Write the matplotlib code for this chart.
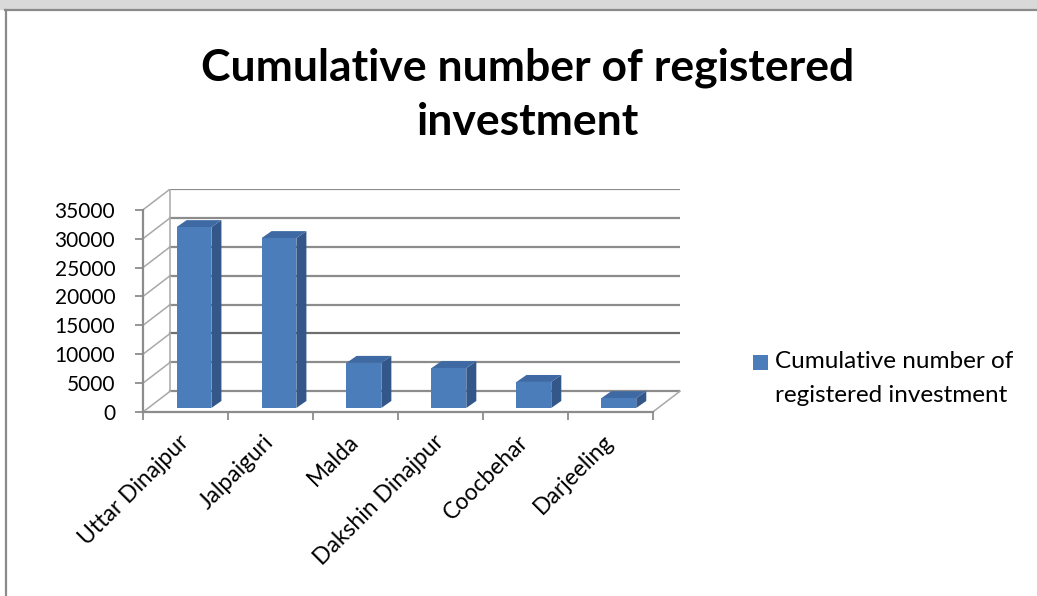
import matplotlib
matplotlib.use("Agg")
import matplotlib.pyplot as plt
from matplotlib.patches import Polygon, Rectangle
from matplotlib.lines import Line2D

plt.rcParams['font.family'] = ['Lato', 'DejaVu Sans']

districts = ['Uttar Dinajpur', 'Jalpaiguri', 'Malda', 'Dakshin Dinajpur',
             'Coocbehar', 'Darjeeling']
investments = [31300, 29400, 7800, 6900, 4500, 1700]
y_ticks = [0, 5000, 10000, 15000, 20000, 25000, 30000, 35000]
title_lines = ['Cumulative number of registered', 'investment']
legend_lines = ['Cumulative number of', 'registered investment']

# fake 3d: oblique offsets of the back wall and the bar depth (data units)
wall_dx, wall_dy = 0.32, 3600
bar_off_x, bar_off_y = 0.10, 700
bar_dx, bar_dy = 0.118, 1210
bar_w = 0.41
front_c, side_c, top_c = '#4a7dba', '#34578a', '#3e69a3'
grid_c = '#8c8c8c'

W, H = 1037, 596
fig = plt.figure(figsize=(W / 100, H / 100), dpi=100)

# page strip and chart frame
fig.patches.append(Rectangle((0, 1 - 10 / H), 1, 10 / H, transform=fig.transFigure,
                             facecolor='#d9d9d9', edgecolor='none'))
fig.lines.append(Line2D([5 / W, 1], [1 - 10 / H, 1 - 10 / H], transform=fig.transFigure,
                        color='#8a8a8a', lw=1.6))
fig.lines.append(Line2D([6 / W, 6 / W], [0, 1 - 10 / H], transform=fig.transFigure,
                        color='#8a8a8a', lw=1.6))

n = len(districts)
ymax = y_ticks[-1]
ax = fig.add_axes([143 / W, 184 / H, 537 / W, 223 / H])
ax.set_xlim(0, n + wall_dx)
ax.set_ylim(0, ymax + wall_dy)

# walls
for v in y_ticks:
    lc = '#6e6e6e' if v == 10000 else grid_c
    ax.plot([wall_dx, n + wall_dx], [v + wall_dy, v + wall_dy], color=lc, lw=1.6, zorder=1)
    ax.plot([0, wall_dx], [v, v + wall_dy], color='#a8a8a8', lw=1.1, zorder=1)
ax.plot([wall_dx, wall_dx], [wall_dy, ymax + wall_dy], color='#a8a8a8', lw=1.1, zorder=1)
ax.plot([n, n + wall_dx], [0, wall_dy], color='#a8a8a8', lw=1.1, zorder=1, clip_on=False)

# bars
for i, v in enumerate(investments):
    x0 = i + 0.5 - bar_w / 2 + bar_off_x
    b = bar_off_y
    x1 = x0 + bar_w
    ax.add_patch(Polygon([(x1, b), (x1 + bar_dx, b + bar_dy), (x1 + bar_dx, b + v + bar_dy),
                          (x1, b + v)], closed=True, facecolor=side_c, edgecolor='none', zorder=3))
    ax.add_patch(Polygon([(x0, b + v), (x1, b + v), (x1 + bar_dx, b + v + bar_dy),
                          (x0 + bar_dx, b + v + bar_dy)], closed=True, facecolor=top_c,
                         edgecolor='none', zorder=3))
    ax.add_patch(Rectangle((x0, b), bar_w, v, facecolor=front_c, edgecolor='none', zorder=4))

# axes
for s in ['top', 'right']:
    ax.spines[s].set_visible(False)
ax.spines['left'].set_bounds(0, ymax)
ax.spines['bottom'].set_bounds(0, n)
for s in ['left', 'bottom']:
    ax.spines[s].set_color(grid_c)
    ax.spines[s].set_linewidth(1.6)
ax.set_yticks(y_ticks)
ax.set_yticklabels([str(t) for t in y_ticks])
ax.tick_params(axis='y', length=6, width=1.3, color=grid_c, pad=14, labelsize=15)
ax.set_xticks(range(n + 1))
ax.set_xticklabels([])
ax.tick_params(axis='x', which='major', length=6, width=1.3, color=grid_c)
ax.set_xticks([i + 0.5 for i in range(n)], minor=True)
ax.set_xticklabels(districts, minor=True, rotation=45, ha='right', va='center',
                   rotation_mode='anchor', fontsize=16.5)
ax.tick_params(axis='x', which='minor', length=0, pad=19)
ax.patch.set_visible(False)

# title
fig.text(528 / W, 1 - 80 / H, title_lines[0], ha='center', va='baseline',
         fontsize=32, fontweight='bold')
fig.text(528 / W, 1 - 135 / H, title_lines[1], ha='center', va='baseline',
         fontsize=32, fontweight='bold')

# legend
fig.patches.append(Rectangle((753 / W, 1 - 370 / H), 15 / W, 15 / H, transform=fig.transFigure,
                             facecolor=front_c, edgecolor='none'))
fig.text(775 / W, 1 - 362 / H, legend_lines[0], ha='left', va='center', fontsize=17.5)
fig.text(775 / W, 1 - 395 / H, legend_lines[1], ha='left', va='center', fontsize=17.5)

fig.savefig('out.png', dpi=100)
